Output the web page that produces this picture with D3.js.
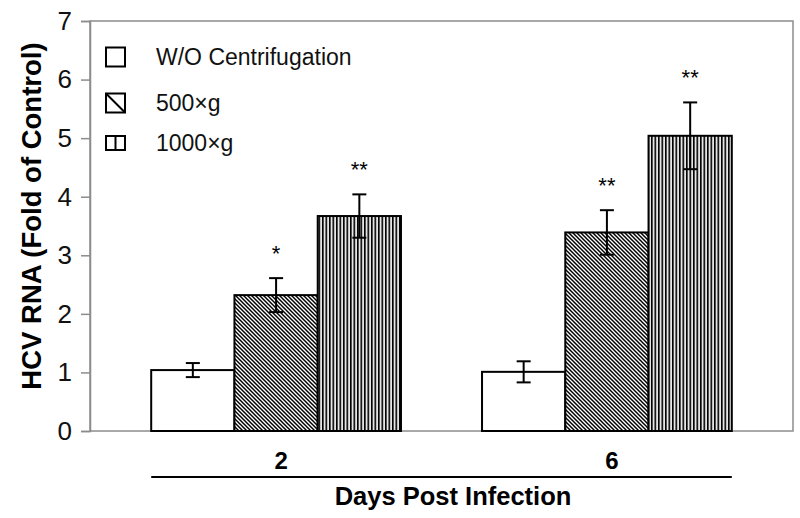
<!DOCTYPE html>
<html>
<head>
<meta charset="utf-8">
<script src="https://cdn.jsdelivr.net/npm/d3@7"></script>
<style>
  html, body { margin: 0; padding: 0; background: #fff; }
  svg { display: block; font-family: "Liberation Sans", Arial, sans-serif; }
</style>
</head>
<body>
<svg id="chart" width="800" height="518"></svg>
<script>
// ---- data ----
const days = ["2", "6"];
const series = ["W/O Centrifugation", "500×g", "1000×g"];
const valuesDay2 = [1.04, 2.32, 3.67];
const valuesDay6 = [1.01, 3.39, 5.04];
const errorsDay2 = [0.12, 0.29, 0.37];
const errorsDay6 = [0.18, 0.38, 0.57];
const marksDay2 = ["", "*", "**"];
const marksDay6 = ["", "**", "**"];
const yTicks = [0, 1, 2, 3, 4, 5, 6, 7];
const yTitle = "HCV RNA (Fold of Control)";
const xTitle = "Days Post Infection";

const rows = [];
days.forEach((d, i) => {
  const v = i === 0 ? valuesDay2 : valuesDay6;
  const e = i === 0 ? errorsDay2 : errorsDay6;
  const m = i === 0 ? marksDay2 : marksDay6;
  series.forEach((s, j) => rows.push({ day: d, series: s, si: j, value: v[j], err: e[j], mark: m[j] }));
});

// ---- layout ----
const svg = d3.select("#chart");
const pL = 90, pR = 793, pT = 21, pB = 431;

const y = d3.scaleLinear().domain([0, 7]).range([pB, pT]);
const x0 = d3.scaleBand().domain(days).range([pL, pR]).paddingInner(0.245).paddingOuter(0.185);
const x1 = d3.scaleBand().domain(series).range([0, x0.bandwidth()]).padding(0);

// ---- patterns ----
const defs = svg.append("defs");
const diag = defs.append("pattern").attr("id", "diag").attr("patternUnits", "userSpaceOnUse")
  .attr("width", 4).attr("height", 4);
diag.append("rect").attr("width", 4).attr("height", 4).attr("fill", "#fff");
diag.append("path").attr("d", "M-1,-1 L5,5 M-1,3 L1,5 M3,-1 L5,1")
  .attr("stroke", "#000").attr("stroke-width", 1.45);
const vert = defs.append("pattern").attr("id", "vert").attr("patternUnits", "userSpaceOnUse")
  .attr("width", 3.5).attr("height", 10);
vert.append("rect").attr("width", 3.5).attr("height", 10).attr("fill", "#e6e6e6");
vert.append("rect").attr("x", 0).attr("width", 1.6).attr("height", 10).attr("fill", "#000");
const fills = ["#fff", "url(#diag)", "url(#vert)"];

// ---- plot frame ----
svg.append("rect").attr("x", pL).attr("y", pT).attr("width", pR - pL).attr("height", pB - pT)
  .attr("fill", "none").attr("stroke", "#8c8c8c").attr("stroke-width", 1.5);

// y axis
const yAxis = d3.axisLeft(y).tickValues(yTicks).tickSize(9).tickPadding(9).tickFormat(d3.format("d"));
const ya = svg.append("g").attr("transform", `translate(${pL},0)`).call(yAxis);
ya.select(".domain").attr("stroke", "#8c8c8c").attr("stroke-width", 1.5);
ya.selectAll(".tick line").attr("stroke", "#8c8c8c").attr("stroke-width", 1.5);
ya.selectAll(".tick text").attr("font-size", 26).attr("fill", "#111")
  .attr("font-family", "Liberation Sans, Arial, sans-serif");

// bars
const g = svg.append("g");
g.selectAll("rect.bar").data(rows).join("rect").attr("class", "bar")
  .attr("x", d => x0(d.day) + x1(d.series))
  .attr("y", d => y(d.value))
  .attr("width", x1.bandwidth())
  .attr("height", d => y(0) - y(d.value))
  .attr("fill", d => fills[d.si])
  .attr("stroke", "#000").attr("stroke-width", 2);

// error bars
const cx = d => x0(d.day) + x1(d.series) + x1.bandwidth() / 2;
const eb = g.selectAll("g.err").data(rows).join("g").attr("class", "err")
  .attr("stroke", "#000").attr("stroke-width", 2);
eb.append("line").attr("x1", cx).attr("x2", cx)
  .attr("y1", d => y(d.value + d.err)).attr("y2", d => y(d.value - d.err));
eb.append("line").attr("x1", d => cx(d) - 7).attr("x2", d => cx(d) + 7)
  .attr("y1", d => y(d.value + d.err)).attr("y2", d => y(d.value + d.err));
eb.append("line").attr("x1", d => cx(d) - 7).attr("x2", d => cx(d) + 7)
  .attr("y1", d => y(d.value - d.err)).attr("y2", d => y(d.value - d.err));

// significance marks
g.selectAll("text.mark").data(rows.filter(d => d.mark)).join("text").attr("class", "mark")
  .attr("x", cx).attr("y", d => y(d.value + d.err) - 17)
  .attr("text-anchor", "middle").attr("font-size", 22).attr("fill", "#000")
  .text(d => d.mark);

// x labels
svg.selectAll("text.xlab").data(days).join("text").attr("class", "xlab")
  .attr("x", d => x0(d) + x0.bandwidth() / 2 + 5).attr("y", 469)
  .attr("text-anchor", "middle").attr("font-size", 24).attr("font-weight", "bold").attr("fill", "#000")
  .text(d => d);

// separator line under x labels
svg.append("line")
  .attr("x1", x0(days[0])).attr("x2", x0(days[days.length - 1]) + x0.bandwidth())
  .attr("y1", 477).attr("y2", 477).attr("stroke", "#000").attr("stroke-width", 2);

svg.append("text").attr("x", 453).attr("y", 505).attr("text-anchor", "middle")
  .attr("font-size", 25.5).attr("font-weight", "bold").attr("fill", "#000").text(xTitle);

svg.append("text").attr("transform", "translate(41,216) rotate(-90)").attr("text-anchor", "middle")
  .attr("font-size", 27.5).attr("font-weight", "bold").attr("fill", "#000").text(yTitle);

// legend
const legY = [57, 103, 143];
const leg = svg.append("g");
series.forEach((s, i) => {
  const h = i === 2 ? 14 : 19;
  const gy = legY[i] - h / 2;
  const lg = leg.append("g");
  lg.append("rect").attr("x", 106).attr("y", gy).attr("width", 19).attr("height", h)
    .attr("fill", "#fff").attr("stroke", "#000").attr("stroke-width", 2);
  if (i === 1) lg.append("line").attr("x1", 106).attr("y1", gy).attr("x2", 125).attr("y2", gy + h)
    .attr("stroke", "#000").attr("stroke-width", 2);
  if (i === 2) lg.append("line").attr("x1", 115.5).attr("y1", gy).attr("x2", 115.5).attr("y2", gy + h)
    .attr("stroke", "#000").attr("stroke-width", 2);
  lg.append("text").attr("x", 156).attr("y", legY[i] + 8).attr("font-size", 23).attr("fill", "#111").text(s);
});
</script>
</body>
</html>
